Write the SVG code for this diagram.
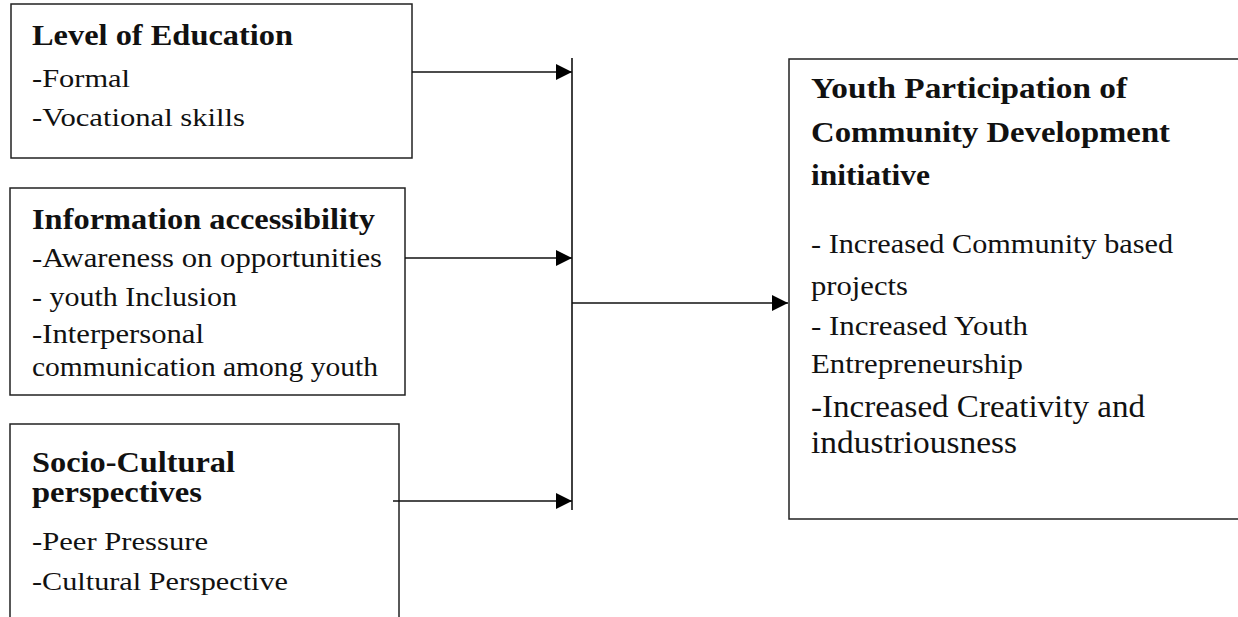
<svg xmlns="http://www.w3.org/2000/svg" width="1238" height="617" viewBox="0 0 1238 617">
  <style>
    .box { fill: #ffffff; stroke: #222; stroke-width: 1.5; }
    .wire { fill: none; stroke: #111; stroke-width: 1.6; }
    text { font-family: "Liberation Serif", "Times New Roman", serif; fill: #111; }
    .head { font-weight: bold; font-size: 29px; }
    .item { font-size: 25px; }
    .item-lg { font-size: 27px; }
    .item-xl { font-size: 31px; }
  </style>
  <defs>
    <marker id="tip" viewBox="0 0 16 16" refX="16" refY="8" markerWidth="16" markerHeight="16" markerUnits="userSpaceOnUse" orient="auto">
      <path d="M0,0 L16,8 L0,16 Z" fill="#000"/>
    </marker>
  </defs>

  <rect width="1238" height="617" fill="#ffffff"/>

  <!-- Independent variable: education -->
  <g id="level-of-education">
    <rect class="box" x="11" y="4" width="401" height="154"/>
    <text class="head" x="32" y="45" textLength="261" lengthAdjust="spacingAndGlyphs">Level of Education</text>
    <text class="item" x="32" y="87" textLength="98" lengthAdjust="spacingAndGlyphs">-Formal</text>
    <text class="item" x="32" y="126" textLength="213" lengthAdjust="spacingAndGlyphs">-Vocational skills</text>
  </g>

  <!-- Independent variable: information -->
  <g id="information-accessibility">
    <rect class="box" x="10" y="188" width="395" height="207"/>
    <text class="head" x="32" y="229" textLength="343" lengthAdjust="spacingAndGlyphs">Information  accessibility</text>
    <text class="item-lg" x="32" y="267" textLength="350" lengthAdjust="spacingAndGlyphs">-Awareness on opportunities</text>
    <text class="item-lg" x="32" y="306" textLength="205" lengthAdjust="spacingAndGlyphs">- youth Inclusion</text>
    <text class="item-lg" x="32" y="343" textLength="172" lengthAdjust="spacingAndGlyphs">-Interpersonal</text>
    <text class="item-lg" x="32" y="376" textLength="346" lengthAdjust="spacingAndGlyphs">communication among youth</text>
  </g>

  <!-- Independent variable: socio-cultural -->
  <g id="socio-cultural-perspectives">
    <rect class="box" x="10" y="424" width="389" height="230"/>
    <text class="head" x="32" y="472" textLength="203" lengthAdjust="spacingAndGlyphs">Socio-Cultural</text>
    <text class="head" x="32" y="502" textLength="170" lengthAdjust="spacingAndGlyphs">perspectives</text>
    <text class="item" x="32" y="550" textLength="176" lengthAdjust="spacingAndGlyphs">-Peer Pressure</text>
    <text class="item" x="32" y="590" textLength="256" lengthAdjust="spacingAndGlyphs">-Cultural Perspective</text>
  </g>

  <!-- Dependent variable -->
  <g id="youth-participation">
    <rect class="box" x="789" y="59" width="460" height="460"/>
    <text class="head" x="811" y="98" textLength="316" lengthAdjust="spacingAndGlyphs">Youth Participation of</text>
    <text class="head" x="811" y="142" textLength="359" lengthAdjust="spacingAndGlyphs">Community  Development</text>
    <text class="head" x="811" y="185" textLength="119" lengthAdjust="spacingAndGlyphs">initiative</text>
    <text class="item-lg" x="811" y="253" textLength="362" lengthAdjust="spacingAndGlyphs">- Increased Community based</text>
    <text class="item-lg" x="811" y="295" textLength="97" lengthAdjust="spacingAndGlyphs">projects</text>
    <text class="item-lg" x="811" y="335" textLength="217" lengthAdjust="spacingAndGlyphs">- Increased Youth</text>
    <text class="item-lg" x="811" y="373" textLength="212" lengthAdjust="spacingAndGlyphs">Entrepreneurship</text>
    <text class="item-xl" x="811" y="417" textLength="334" lengthAdjust="spacingAndGlyphs">-Increased  Creativity and</text>
    <text class="item-xl" x="811" y="453" textLength="206" lengthAdjust="spacingAndGlyphs">industriousness</text>
  </g>

  <!-- Connectors -->
  <g id="connectors">
    <line class="wire" x1="412" y1="72" x2="572" y2="72" marker-end="url(#tip)"/>
    <line class="wire" x1="405" y1="258" x2="572" y2="258" marker-end="url(#tip)"/>
    <line class="wire" x1="393" y1="501" x2="572" y2="501" marker-end="url(#tip)"/>
    <line class="wire" x1="572" y1="58" x2="572" y2="510"/>
    <line class="wire" x1="572" y1="303" x2="788" y2="303" marker-end="url(#tip)"/>
  </g>
</svg>
